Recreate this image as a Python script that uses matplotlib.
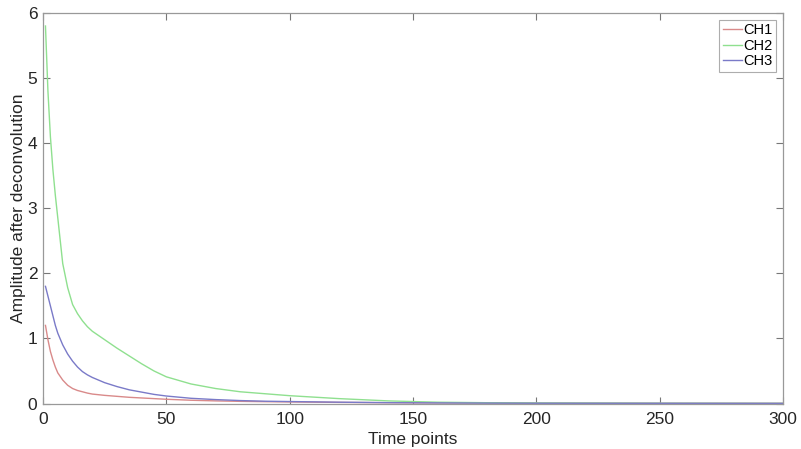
import matplotlib
matplotlib.use("Agg")
import matplotlib.pyplot as plt

plt.rcParams['font.family'] = ['Liberation Sans', 'DejaVu Sans']

time_points = [1, 2, 3, 4, 5, 6, 8, 10, 12, 14, 16, 18, 20, 25, 30, 35, 40, 45, 50,
               60, 70, 80, 90, 100, 120, 140, 160, 180, 200, 250, 300]
ch1 = [1.2, 0.98, 0.8, 0.67, 0.56, 0.47, 0.36, 0.28, 0.23, 0.2, 0.18, 0.16, 0.145,
       0.125, 0.11, 0.095, 0.085, 0.075, 0.065, 0.05, 0.04, 0.033, 0.028, 0.024,
       0.017, 0.012, 0.009, 0.007, 0.005, 0.003, 0.002]
ch2 = [5.8, 4.8, 4.1, 3.6, 3.2, 2.85, 2.15, 1.78, 1.52, 1.38, 1.27, 1.18, 1.11, 0.98,
       0.85, 0.73, 0.61, 0.5, 0.41, 0.3, 0.23, 0.18, 0.15, 0.12, 0.075, 0.04, 0.02,
       0.012, 0.008, 0.004, 0.002]
ch3 = [1.8, 1.65, 1.5, 1.35, 1.2, 1.08, 0.9, 0.76, 0.65, 0.56, 0.49, 0.44, 0.4, 0.32,
       0.26, 0.21, 0.175, 0.14, 0.115, 0.08, 0.06, 0.045, 0.035, 0.03, 0.02, 0.013,
       0.009, 0.006, 0.004, 0.003, 0.002]
labels = ['CH1', 'CH2', 'CH3']
colors = ['#d98a8a', '#8fe08f', '#7a7ac8']

fig = plt.figure(figsize=(8.01, 4.49), dpi=100)
ax = fig.add_axes([43/801, 1-403.5/449, 740/801, 390.5/449])
for y, lab, c in zip([ch1, ch2, ch3], labels, colors):
    ax.plot(time_points, y, color=c, lw=1.0, label=lab)

ax.set_xlim(0, 300)
ax.set_ylim(0, 6)
ax.set_xticks([0, 50, 100, 150, 200, 250, 300])
ax.set_yticks([0, 1, 2, 3, 4, 5, 6])
ax.tick_params(direction='in', top=True, right=True, length=5, width=0.8,
               colors='#777777', labelcolor='#262626', labelsize=12.5)
ax.tick_params(axis='x', pad=6)
ax.tick_params(axis='y', pad=4)
for s in ax.spines.values():
    s.set_color('#999999')
    s.set_linewidth(0.9)
ax.set_xlabel('Time points', fontsize=12.5, color='#262626', labelpad=4)
ax.set_ylabel('Amplitude after deconvolution', fontsize=12.5, color='#262626', labelpad=1)
leg = ax.legend(loc='upper right', fontsize=10.5, frameon=True, fancybox=False,
                handlelength=1.3, handletextpad=0.1, borderpad=0.25, labelspacing=0.1,
                borderaxespad=0.45, edgecolor='#999999')
leg.get_frame().set_linewidth(0.8)

fig.savefig('out.png', dpi=100)
